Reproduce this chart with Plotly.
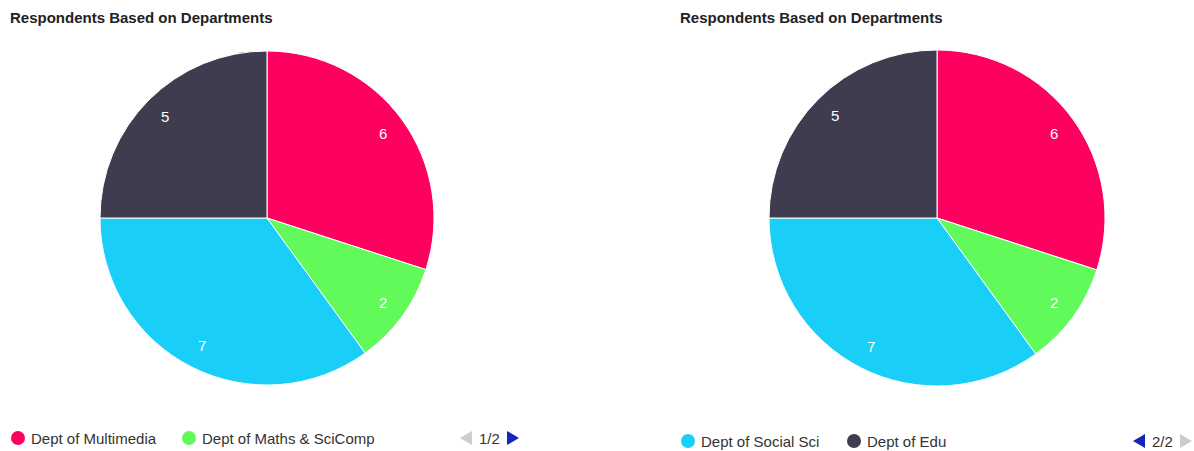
import math
import plotly.graph_objects as go

W, H = 1194, 451

# ---- data ----
departments = ["Dept of Multimedia", "Dept of Maths & SciComp", "Dept of Social Sci", "Dept of Edu"]
respondents = [6, 2, 7, 5]
colors = ["#fd0060", "#62f95a", "#19cff8", "#403c4f"]
title_text = "Respondents Based on Departments"
legend_pages = [[0, 1], [2, 3]]
page_labels = ["1/2", "2/2"]

# panel geometry (pixels)
panels = [
    dict(cx=267, cy=218, d=334, title_x=8, leg_y=438, leg_x=[18, 189], pager_x=489),
    dict(cx=937, cy=218, d=336, title_x=678, leg_y=441, leg_x=[688, 854], pager_x=1162),
]

FONT = "Liberation Sans, Arial"


def px(x):
    return x / W


def py(y):
    return 1 - y / H


fig = go.Figure()
annotations = []
shapes = []
total = sum(respondents)

for i, p in enumerate(panels):
    r = p["d"] / 2
    fig.add_trace(go.Pie(
        labels=departments,
        values=respondents,
        sort=False,
        direction="clockwise",
        rotation=0,
        marker=dict(colors=colors, line=dict(color="white", width=1)),
        textinfo="none",
        hoverinfo="label+value",
        showlegend=False,
        domain=dict(x=[px(p["cx"] - r), px(p["cx"] + r)],
                    y=[py(p["cy"] + r), py(p["cy"] - r)]),
    ))
    # value labels placed from data (mid-angle of each slice)
    cum = 0
    for v in respondents:
        mid = (cum + v / 2) / total * 2 * math.pi
        cum += v
        lx = p["cx"] + 0.86 * r * math.sin(mid)
        ly = p["cy"] - 0.86 * r * math.cos(mid)
        annotations.append(dict(
            x=px(lx), y=py(ly), xref="paper", yref="paper",
            text=str(v), showarrow=False,
            font=dict(family=FONT, size=15, color="white"),
            xanchor="center", yanchor="middle"))
    # title
    annotations.append(dict(
        x=px(p["title_x"]), y=py(17), xref="paper", yref="paper",
        text="<b>" + title_text + "</b>", showarrow=False,
        font=dict(family=FONT, size=15, color="#222222"),
        xanchor="left", yanchor="middle"))
    # custom paged legend
    for j, idx in enumerate(legend_pages[i]):
        cx = p["leg_x"][j]
        shapes.append(dict(
            type="circle", xref="paper", yref="paper",
            xsizemode="pixel", ysizemode="pixel",
            xanchor=px(cx), yanchor=py(p["leg_y"]),
            x0=-7, x1=7, y0=-7, y1=7,
            fillcolor=colors[idx], line=dict(width=0)))
        annotations.append(dict(
            x=px(cx + 11), y=py(p["leg_y"]), xref="paper", yref="paper",
            text=departments[idx], showarrow=False,
            font=dict(family=FONT, size=15, color="#333333"),
            xanchor="left", yanchor="middle"))
    # pager
    annotations.append(dict(
        x=px(p["pager_x"]), y=py(p["leg_y"]), xref="paper", yref="paper",
        text=page_labels[i], showarrow=False,
        font=dict(family=FONT, size=15, color="#333333"),
        xanchor="center", yanchor="middle"))
    left_col = "#cccccc" if i == 0 else "#1426b8"
    right_col = "#1426b8" if i == 0 else "#cccccc"
    shapes.append(dict(
        type="path", xref="paper", yref="paper",
        xsizemode="pixel", ysizemode="pixel",
        xanchor=px(p["pager_x"] - 23), yanchor=py(p["leg_y"]),
        path="M -6 0 L 6 7 L 6 -7 Z", fillcolor=left_col, line=dict(width=0)))
    shapes.append(dict(
        type="path", xref="paper", yref="paper",
        xsizemode="pixel", ysizemode="pixel",
        xanchor=px(p["pager_x"] + 24), yanchor=py(p["leg_y"]),
        path="M 6 0 L -6 7 L -6 -7 Z", fillcolor=right_col, line=dict(width=0)))

fig.update_layout(
    width=W, height=H,
    margin=dict(l=0, r=0, t=0, b=0),
    paper_bgcolor="white", plot_bgcolor="white",
    annotations=annotations, shapes=shapes,
)

fig.write_html("out.html")
